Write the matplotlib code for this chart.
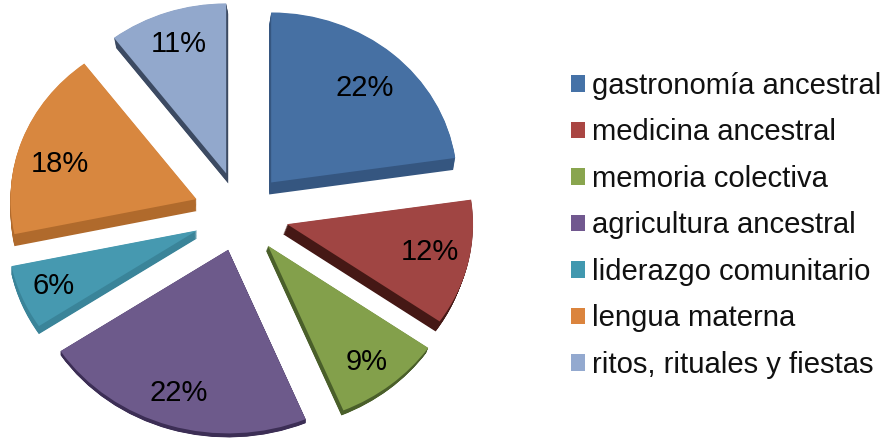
import numpy as np
import matplotlib
matplotlib.use("Agg")
import matplotlib.pyplot as plt
from matplotlib.patches import Patch

plt.rcParams['font.family'] = ['Liberation Sans', 'DejaVu Sans']

# data
categories = ["gastronomía ancestral", "medicina ancestral", "memoria colectiva",
              "agricultura ancestral", "liderazgo comunitario", "lengua materna",
              "ritos, rituales y fiestas"]
shares = [22, 12, 9, 22, 6, 18, 11]

# style
top_colors = ["#4670A3", "#A04543", "#83A04B", "#6D5A8B", "#4699B0", "#D8873F", "#92A8CC"]
side_colors = ["#355680", "#451815", "#4A5F2A", "#3C2E55", "#3A8499", "#B06A2C", "#3C4A62"]
legend_colors = ["#4572A7", "#AA4643", "#89A54E", "#71588F", "#4198AF", "#DB843D", "#93A9CF"]
explode = [0.25, 0.26, 0.24, 0.22, 0.25, 0.25, 0.25]
radii = [1.0, 1.0, 1.05, 1.08, 1.02, 1.0, 1.0]
side_dx = [-2, -4, -2, 0, 0, 0, 2]      # px
side_dy = [12, 10, 5, 4, 8, 12, 10]     # px
pct_dist = [0.80, 0.80, 0.88, 0.86, 0.85, 0.80, 0.80]
label_nudge_x = [-4, -2, -4, -3, 2, 3, 0]    # px
label_nudge_y = [-8, 3, 0, -3, 0, -13, 0]    # px, up is positive
START = 87.5     # slight perspective rotation of the chart
TOP = 90         # the two slices at the top still meet at a vertical edge

W, H = 884, 441
CX, CY, RX, RY = 240, 214, 186, 170


def shape(wedges):
    for w, r in zip(wedges, radii):
        w.set_radius(r)
    wedges[0].set_theta2(TOP)
    wedges[-1].set_theta1(TOP - 360)


fig = plt.figure(figsize=(W / 100, H / 100), dpi=100)
ax = fig.add_axes([0, 0, 1, 1])

# extruded sides: stacked layers, deepest first
for f in np.linspace(1, 0.05, 14):
    wedges, _ = ax.pie(shares, explode=explode, colors=side_colors, startangle=START,
                       counterclock=False, wedgeprops=dict(linewidth=0))
    shape(wedges)
    for w, dx, dy in zip(wedges, side_dx, side_dy):
        w.set_center((w.center[0] + f * dx / RX, w.center[1] - f * dy / RY))

# top faces with percentage labels
wedges, _, autotexts = ax.pie(shares, explode=explode, colors=top_colors, startangle=START,
                              counterclock=False, wedgeprops=dict(linewidth=0),
                              autopct=lambda p: f"{p:.0f}%", pctdistance=0.8,
                              textprops=dict(fontsize=21, color="#000000"))
shape(wedges)
for w, t, d, nx, ny in zip(wedges, autotexts, pct_dist, label_nudge_x, label_nudge_y):
    mid = np.deg2rad((w.theta1 + w.theta2) / 2)
    t.set_position((w.center[0] + d * np.cos(mid) + nx / RX,
                    w.center[1] + d * np.sin(mid) + ny / RY))

ax.set_aspect("auto")
ax.set_xlim(-CX / RX, (W - CX) / RX)
ax.set_ylim(-(H - CY) / RY, CY / RY)
ax.axis("off")

handles = [Patch(facecolor=c, edgecolor="none") for c in legend_colors]
ax.legend(handles, categories, loc="upper left", bbox_to_anchor=(571 / W, 1 - 72 / H),
          frameon=False, fontsize=21.1, handlelength=0.48, handleheight=0.48,
          handletextpad=0.24, labelspacing=0.63, borderpad=0, borderaxespad=0,
          labelcolor="#111111")

fig.savefig("out.png", dpi=100)
